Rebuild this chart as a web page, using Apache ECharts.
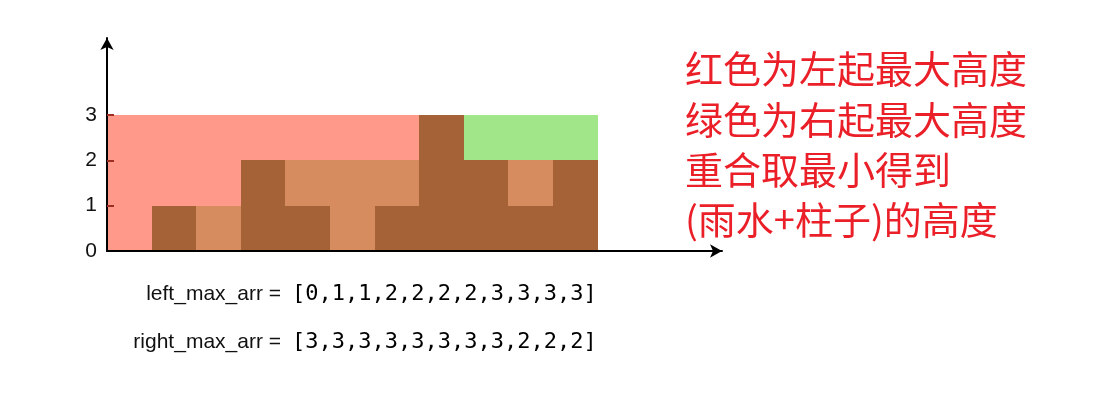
<!DOCTYPE html>
<html><head><meta charset="utf-8">
<script src="https://cdn.jsdelivr.net/npm/echarts@6/dist/echarts.min.js"></script>
<style>html,body{margin:0;padding:0;background:#fff}#c{width:1106px;height:402px}</style>
</head><body><div id="c"></div>
<script>
// ---- data ----
const columnIndex   = [0,1,2,3,4,5,6,7,8,9,10];
const pillarHeights = [0,1,0,2,1,0,1,3,2,1,2];
const waterDepth    = [0,0,1,0,1,2,1,0,0,1,0];
const leftRegion    = [3,2,2,1,1,1,1,0,0,0,0];   // red part above water/pillar
const rightRegion   = [0,0,0,0,0,0,0,0,1,1,1];   // green part above pillar/water
const leftMaxArr    = [0,1,1,2,2,2,2,3,3,3,3];
const rightMaxArr   = [3,3,3,3,3,3,3,3,2,2,2];
const yTickLabels   = [0,1,2,3];
const yTickMarks    = [1,2,3];
const noteLines = ['红色为左起最大高度','绿色为右起最大高度','重合取最小得到','(雨水+柱子)的高度'];

// ---- build ----
const layers = [
  {name:'柱子', values: pillarHeights, color:'#a46236'},
  {name:'雨水', values: waterDepth, color:'#d78c5f'},
  {name:'左起最大高度', values: leftRegion, color:'#ff9a8b'},
  {name:'右起最大高度', values: rightRegion, color:'#a2e68a'}
];
const base = columnIndex.map(() => 0);
const series = layers.map(layer => {
  const data = [];
  columnIndex.forEach(i => {
    const v = layer.values[i];
    if (v > 0) data.push([i, base[i], base[i] + v]);
    base[i] += v;
  });
  return {
    type: 'custom', name: layer.name, data: data, z: 2,
    encode: {x: 0, y: [1, 2]},
    renderItem: function (params, api) {
      const i = api.value(0), y0 = api.value(1), y1 = api.value(2);
      const p0 = api.coord([i, y0]);
      const p1 = api.coord([i + 1, y1]);
      const x0 = Math.round(p0[0]), x1 = Math.round(p1[0]);
      const yb = Math.round(p0[1]), yt = Math.round(p1[1]);
      return {type: 'rect', shape: {x: x0, y: yt, width: x1 - x0, height: yb - yt},
              style: {fill: layer.color}};
    }
  };
});

const graphics = [];
noteLines.forEach((t, k) => {
  graphics.push({type: 'text', x: 685, y: 69 + 50.3 * k, z: 20,
    style: {text: t, fill: '#ea1f28', font: '38px "Noto Sans CJK SC", sans-serif',
            textAlign: 'left', textVerticalAlign: 'middle'}});
});
const rows = [
  {label: 'left_max_arr =', arr: leftMaxArr, y: 294},
  {label: 'right_max_arr =', arr: rightMaxArr, y: 342}
];
rows.forEach(r => {
  graphics.push({type: 'text', x: 281, y: r.y, z: 20,
    style: {text: r.label, fill: '#111', font: '21px "Liberation Sans", Arial, sans-serif',
            textAlign: 'right', textVerticalAlign: 'middle'}});
  graphics.push({type: 'text', x: 292, y: r.y, z: 20,
    style: {text: '[' + r.arr.join(',') + ']', fill: '#000', font: '22px "DejaVu Sans Mono", monospace',
            textAlign: 'left', textVerticalAlign: 'middle'}});
});

const chart = echarts.init(document.getElementById('c'), null, {renderer: 'canvas'});
chart.setOption({
  animation: false,
  backgroundColor: '#ffffff',
  grid: {left: 107, right: 384, top: 38, bottom: 151, containLabel: false},
  xAxis: {
    type: 'value', min: 0, max: 13.79, z: 10,
    axisLine: {show: true, symbol: ['none', 'arrow'], symbolSize: [10, 12],
               lineStyle: {color: '#000', width: 2}},
    axisTick: {show: false}, axisLabel: {show: false}, splitLine: {show: false}
  },
  yAxis: {
    type: 'value', min: 0, max: 4.7, z: 10,
    axisLine: {show: true, symbol: ['none', 'arrow'], symbolSize: [10, 12],
               lineStyle: {color: '#000', width: 2}},
    axisTick: {show: true, inside: true, length: 7, customValues: yTickMarks,
               lineStyle: {color: '#9c2e22', width: 2}},
    axisLabel: {show: true, customValues: yTickLabels, margin: 10, color: '#111',
                fontSize: 21, fontFamily: '"Liberation Sans", Arial, sans-serif'},
    splitLine: {show: false}
  },
  series: series,
  graphic: graphics
});
</script></body></html>
